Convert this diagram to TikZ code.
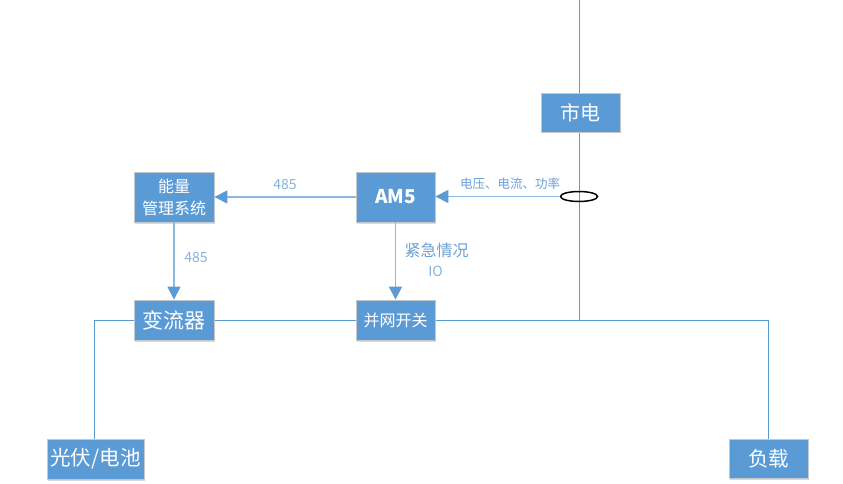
\documentclass[tikz,border=0pt]{standalone}
\usepackage{fontspec}
\setmainfont{Noto Sans CJK SC}
\usetikzlibrary{arrows.meta,shadows,shapes.geometric}
\definecolor{boxblue}{HTML}{5B9BD5}
\definecolor{boxedge}{HTML}{C4C8CC}
\definecolor{arrline}{HTML}{8DB8E2}
\definecolor{labblue}{HTML}{6A9FD8}
\definecolor{lablight}{HTML}{86B2E0}
\tikzset{
  box/.style={draw=boxedge, line width=0.8pt, fill=boxblue, text=white, inner sep=0pt,
    drop shadow={shadow xshift=1.2pt, shadow yshift=-1.5pt, opacity=0.25, fill=black!60}},
  bus/.style={draw=boxblue, line width=1pt},
  sig/.style={draw=arrline, line width=1.3pt, -{Triangle[length=13pt,width=13pt,fill=boxblue,color=boxblue]}},
  lab/.style={text=labblue, inner sep=0pt},
  labl/.style={text=lablight, inner sep=0pt},
}
\begin{document}
\begin{tikzpicture}[x=1pt,y=-1pt]
\useasboundingbox (0,0) rectangle (843,484);
% coordinates of wiring
\coordinate (top) at (579,0);
\coordinate (busL) at (94,320);
\coordinate (busR) at (768,320);
\coordinate (busM) at (579,320);
% lines behind boxes
\draw[bus] (top) -- (busM);
\draw[bus] (busL) -- (busR);
% boxes
\node[box, minimum width=79pt, minimum height=39pt, font=\fontsize{20}{20}\selectfont] (sd) at (580.5,112.5) {市电};
\node[box, minimum width=80pt, minimum height=50pt, font=\fontsize{16}{22}\selectfont, align=center] (ems) at (174,197) {能量\\管理系统};
\node[box, minimum width=79pt, minimum height=50pt, font=\fontsize{19}{20}\selectfont\bfseries] (am) at (395.5,197) {AM5};
\node[box, minimum width=80pt, minimum height=40pt, font=\fontsize{21}{21}\selectfont] (inv) at (174,320) {变流器};
\node[box, minimum width=79pt, minimum height=40pt, font=\fontsize{16}{20}\selectfont] (sw) at (395.5,320) {并网开关};
\node[box, minimum width=97pt, minimum height=40pt, font=\fontsize{20.5}{21}\selectfont] (pv) at (95.5,459) {光伏/电池};
\node[box, minimum width=79pt, minimum height=39pt, font=\fontsize{20.5}{21}\selectfont] (load) at (768.5,458.5) {负载};
% drops to bottom boxes
\draw[bus] (busL) -- (pv.north -| busL);
\draw[bus] (busR) -- (load.north -| busR);
% current sensor ellipse
\node[draw=black, line width=1.5pt, ellipse, minimum width=37pt, minimum height=10pt, inner sep=0pt] (ct) at (579,196.5) {};
% signal arrows
\draw[sig] (ct.west) -- (am.east |- ct.west);
\draw[sig] (am.west) -- (ems.east);
\draw[sig] (ems.south) -- (inv.north);
\draw[sig] (am.south) -- (sw.north);
% labels
\node[labl, font=\fontsize{14}{14}\selectfont] (l1) at (285,185) {485};
\node[labl, font=\fontsize{14}{14}\selectfont] (l2) at (196,258) {485};
\node[lab, font=\fontsize{16}{16}\selectfont] (l3) at (436.5,250) {紧急情况};
\node[labl, font=\fontsize{14}{14}\selectfont] (l4) at (435.5,271) {IO};
\node[lab, font=\fontsize{12.5}{12.5}\selectfont] (l5) at (510,184) {电压、电流、功率};
\end{tikzpicture}
\end{document}
